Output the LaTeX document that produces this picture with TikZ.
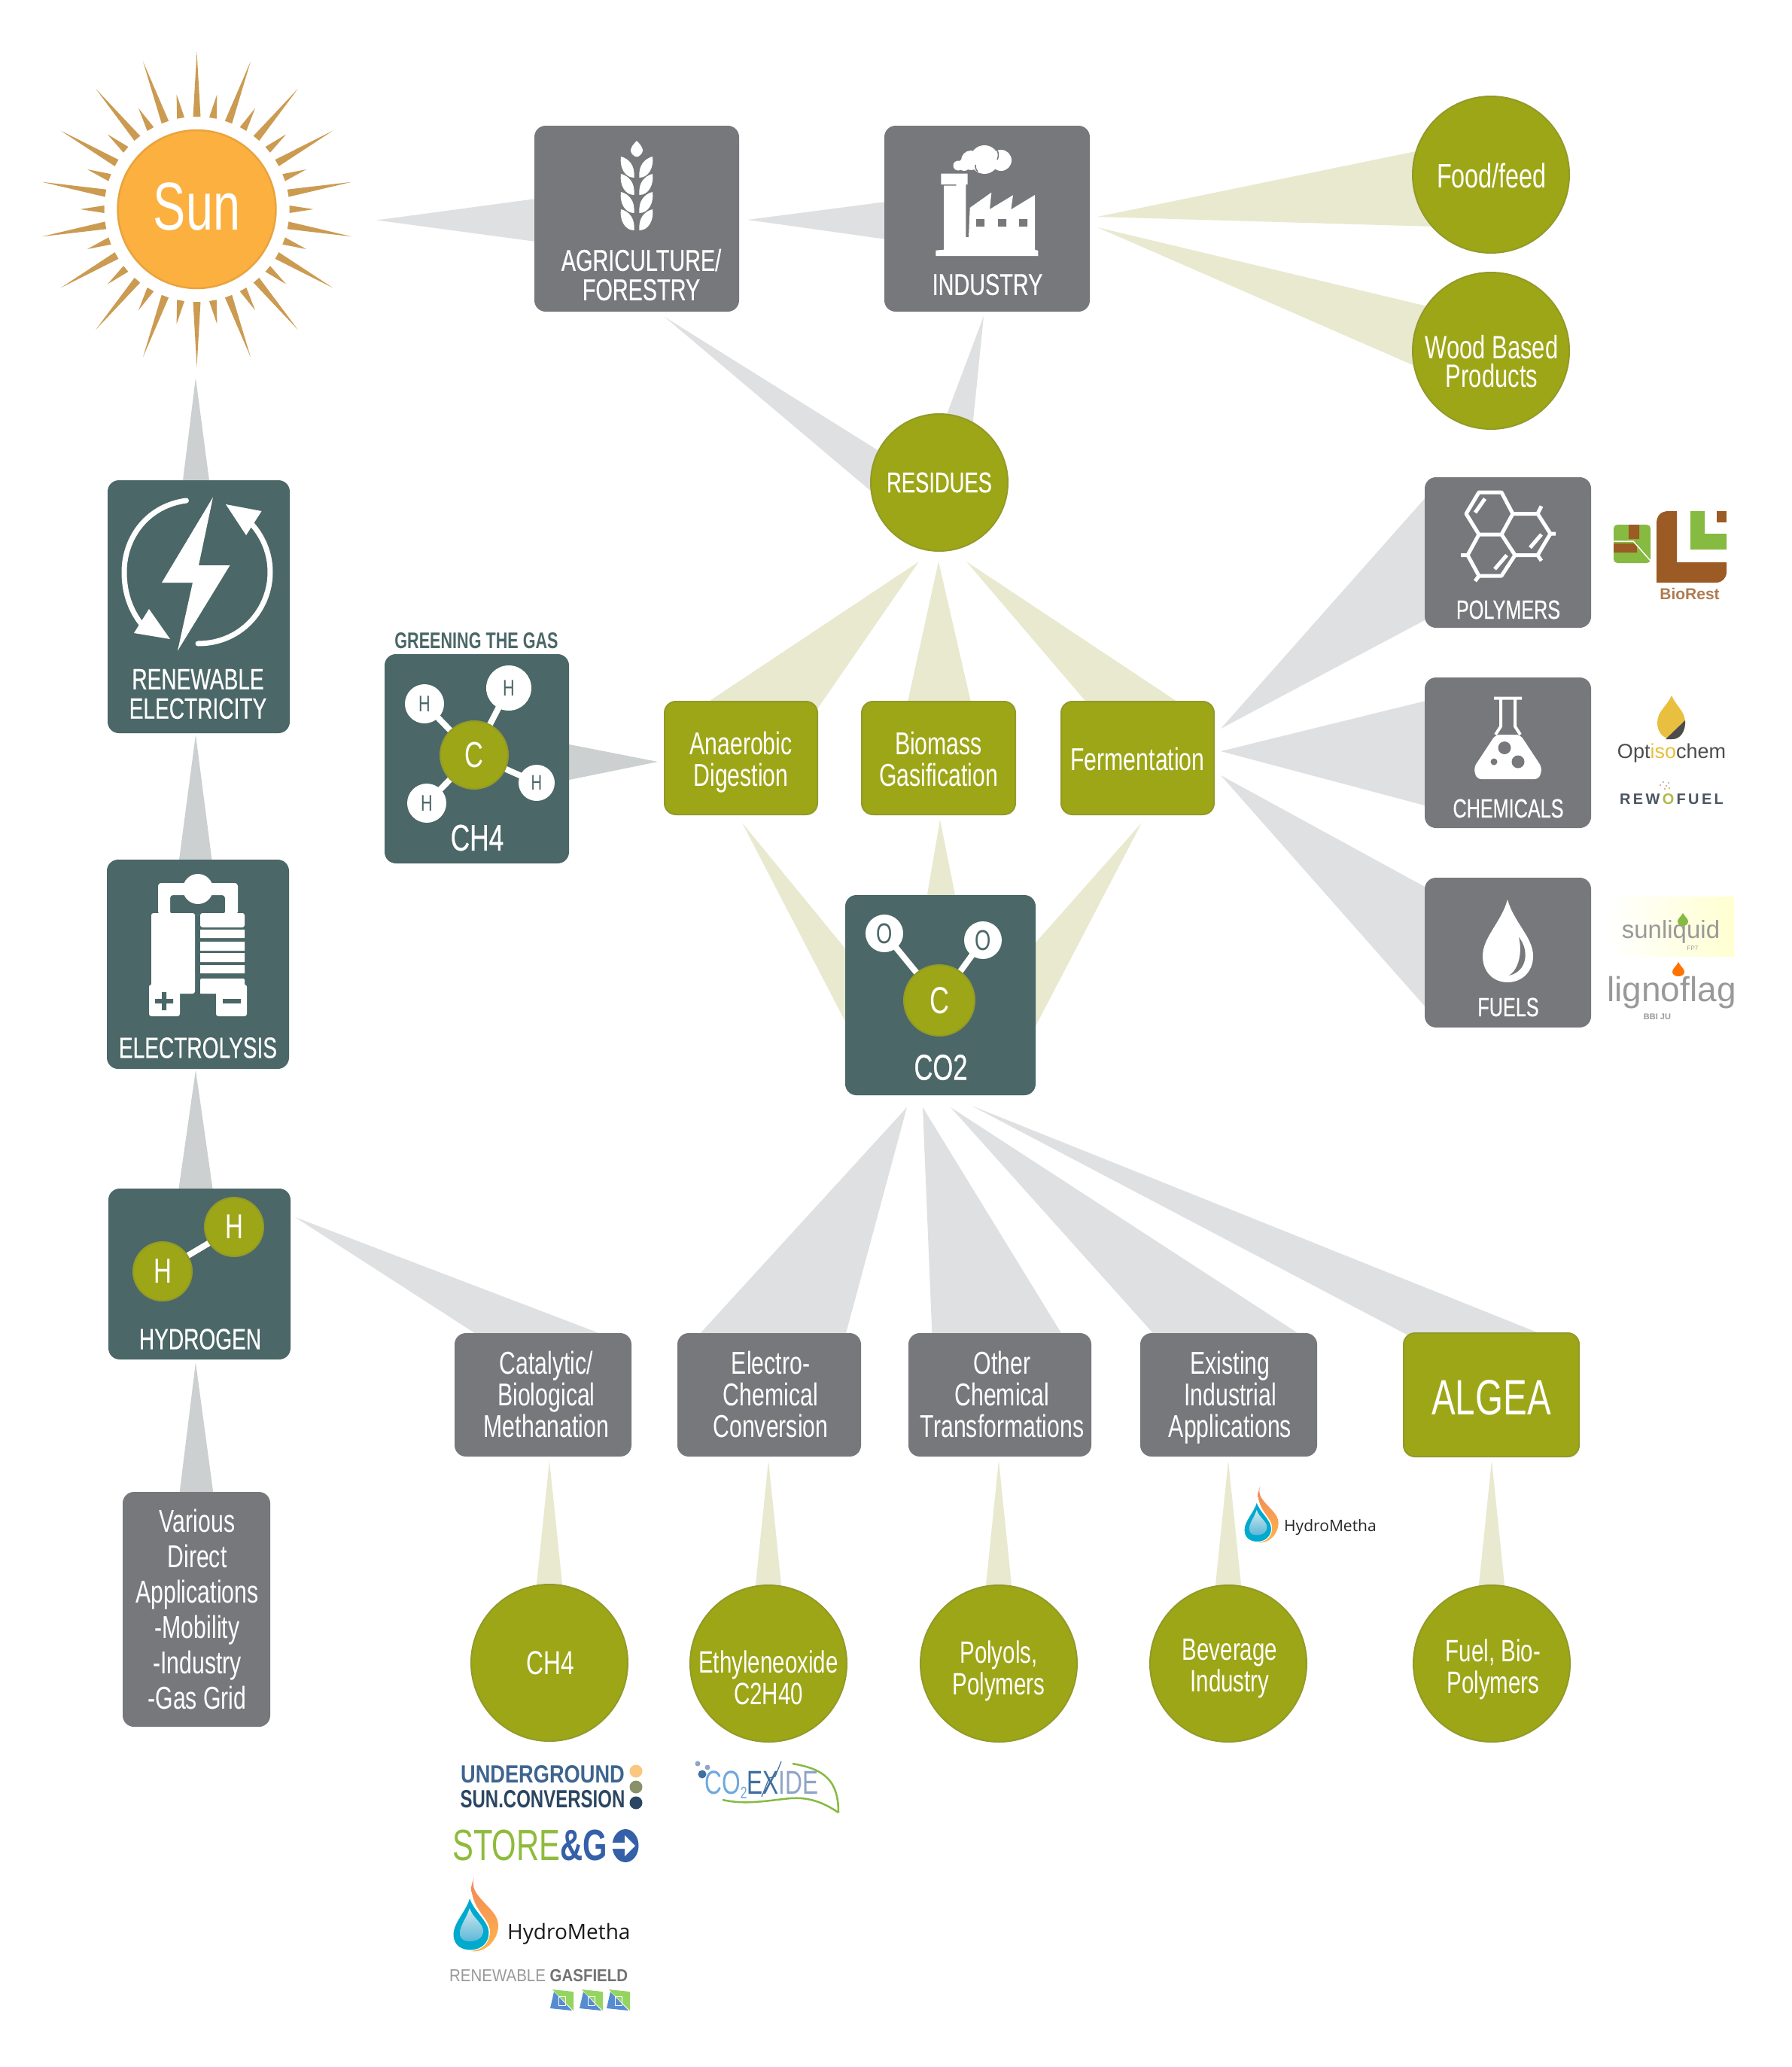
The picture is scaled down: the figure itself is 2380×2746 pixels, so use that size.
\documentclass[tikz,border=0pt]{standalone}
\usepackage{fontspec}
\usetikzlibrary{calc}
\setmainfont{Liberation Sans}
\newfontfamily\cond[FakeStretch=0.72]{Liberation Sans}
\newfontfamily\condm[FakeStretch=0.72,FakeBold=0.5]{Liberation Sans}
\newfontfamily\condb[FakeStretch=0.75,BoldFont={Liberation Sans Bold}]{Liberation Sans}
\newfontfamily\opens{Open Sans}
\newcommand\fsz[1]{\fontsize{#1}{#1}\selectfont}
\newcommand\fsl[2]{\fontsize{#1}{#2}\selectfont}
\definecolor{boxgray}{HTML}{77787B}
\definecolor{boxteal}{HTML}{4B6767}
\definecolor{olv}{HTML}{9DA617}
\definecolor{olvedge}{HTML}{929A28}
\definecolor{wgray}{HTML}{DFE0E2}
\definecolor{wteal}{HTML}{CCD0D1}
\definecolor{wolv}{HTML}{E8E9CF}
\definecolor{raycol}{HTML}{CB9B52}
\definecolor{sunfill}{HTML}{FBB040}
\definecolor{sunedge}{HTML}{E9A33F}
\definecolor{bbrown}{HTML}{9C5A24}
\definecolor{bgreen}{HTML}{86BA41}
\definecolor{uscblue}{HTML}{3E6590}
\definecolor{uscdark}{HTML}{2B4662}
\definecolor{uscgold}{HTML}{F9C77E}
\definecolor{uscolive}{HTML}{8A9168}
\definecolor{goblue}{HTML}{3560A8}
\definecolor{gogreen}{HTML}{8FBB3C}
\definecolor{coa}{HTML}{6FA8DC}
\definecolor{cob}{HTML}{3E6FA0}
\definecolor{coc}{HTML}{8FA5C8}
\definecolor{optgold}{HTML}{E8BF3E}
\definecolor{rewo}{HTML}{4A5560}
\definecolor{hmorange}{HTML}{F4845A}
\definecolor{hmyellow}{HTML}{FDB84A}
\definecolor{hmblue}{HTML}{00A9CE}
\definecolor{hmpale}{HTML}{D5E8F0}
\definecolor{hmmid}{HTML}{5AB8D8}
\pgfdeclarelayer{bg}
\pgfsetlayers{bg,main}
\tikzset{
  rbx/.style={rectangle,rounded corners=15,inner sep=0,align=center,text=white,font=\cond\fsl{42}{42}},
  olvcirc/.style={circle,fill=olv,draw=olvedge,line width=2,inner sep=0,text=white},
  whitetxt/.style={inner sep=0,text=white,align=center,font=\cond\fsl{42}{42}},
  caplabel/.style={inner sep=0,text=white,align=center,font=\condm\fsl{39}{39}},
  atomw/.style={circle,fill=white,inner sep=0,text=boxteal},
  bond/.style={draw=white,line width=8},
  icon/.style={fill=white,draw=none},
  iconline/.style={draw=white,line width=5,line join=round},
  wg/.style={fill=wgray},
  wt/.style={fill=wteal},
  wo/.style={fill=wolv},
  logotxt/.style={inner sep=0,align=center},
}
% box from corners
\newcommand\rrbx[6]{\node[rbx,fill=#2,minimum width={#5-#3},minimum height={#6-#4}] (#1) at ({(#3+#5)/2},{(#4+#6)/2})}
% wedge: style, source, tip offset, target, base offsets
\newcommand\wdg[6]{\fill[#1] ($(#2)+(#3)$) -- ($(#4)+(#5)$) -- ($(#4)+(#6)$) -- cycle;}
\newcommand\leafpair[1]{%
  \fill[icon] (842.5,#1+28) .. controls (830,#1+28) and (823,#1+14) .. (825,#1) .. controls (836,#1+3) and (844,#1+12) .. (842.5,#1+28) -- cycle;
  \fill[icon] (849.5,#1+28) .. controls (862,#1+28) and (869,#1+14) .. (867,#1) .. controls (856,#1+3) and (848,#1+12) .. (849.5,#1+28) -- cycle;}
\newcommand\hmdrop[3]{%
  \begin{scope}[shift={(#1,#2)},scale=#3]
  \shade[top color=hmorange,bottom color=hmyellow] (28,0) .. controls (24,15) and (30,22) .. (40,33) .. controls (50,44) and (60,52) .. (60,65) .. controls (60,85) and (42,102) .. (24,99) .. controls (38,96) and (50,85) .. (49,72) .. controls (48,55) and (26,45) .. (24,14) -- cycle;
  \fill[hmblue,draw=white,line width=1] (22,27) .. controls (18,45) and (0,60) .. (0,77) .. controls (0,92) and (11,98) .. (23,98) .. controls (38,98) and (48,88) .. (48,75) .. controls (48,58) and (28,47) .. (22,27) -- cycle;
  \shade[top color=hmpale,bottom color=hmmid] (22,42) .. controls (18,55) and (9,65) .. (9,75) .. controls (9,84) and (15,86) .. (22,86) .. controls (34,86) and (40,80) .. (40,72) .. controls (40,62) and (26,55) .. (22,42) -- cycle;
  \end{scope}}
\begin{document}
\begin{tikzpicture}[x=1pt,y=-1pt]
\useasboundingbox (0,0) rectangle (2380,2746);

%---- sun
\foreach \a in {10,30,...,350}{\begin{scope}[shift={(261.5,278)},rotate=\a]\fill[raycol] (123,-5) -- (209,0) -- (123,5) -- cycle;\end{scope}}
\foreach \a in {0,20,...,340}{\begin{scope}[shift={(261.5,278)},rotate=\a]\fill[raycol] (123,-5) -- (155,0) -- (123,5) -- cycle;\end{scope}}
\node[circle,fill=sunfill,draw=sunedge,line width=2.5,minimum size=210,inner sep=0] (sun) at (261.5,278) {};
\node[inner sep=0,text=white,font=\cond\fsz{90}] (sunt) at (261.5,275) {Sun};

%---- top row boxes
\rrbx{agri}{boxgray}{710}{167}{982}{414} {};
\rrbx{ind}{boxgray}{1175}{167}{1448}{414} {};
\node[caplabel,font=\condm\fsl{40}{39}] (agrit) at (852,365) {AGRICULTURE/\\FORESTRY};
\node[caplabel,font=\condm\fsz{40}] (indt) at (1312,378) {INDUSTRY};
\fill[icon] (846,187) .. controls (838,195) and (834,202) .. (844,208) -- (848,208) .. controls (858,202) and (854,195) .. (846,187) -- cycle;
\leafpair{208}\leafpair{231}\leafpair{255}\leafpair{278}
% factory
\fill[icon] (1250.3,230.7) -- (1285.7,230.7) -- (1285.7,245) -- (1283.3,245) -- (1283.3,315) -- (1287,315) -- (1288.7,276) -- (1317.3,255.7) -- (1315,278) -- (1346,259.3) -- (1343.3,278.3) -- (1375,259) -- (1375,331.7) -- (1379.3,333) -- (1379.3,340) -- (1243.3,340) -- (1243.3,332.7) -- (1254,331.7) -- (1254,246.7) -- (1270.7,246.7) -- (1270.7,245) -- (1250.3,245) -- cycle;
\fill[boxgray] (1297,291) rectangle (1308,301) (1326,291) rectangle (1337,301) (1354,291) rectangle (1365,301);
\fill[icon] (1273,220) circle (6.5) (1290,213) circle (13) (1308,212) circle (19) (1330,213) circle (14) (1281,219) circle (8);
\draw[boxgray,line width=1.5] (1296,219) .. controls (1296,224) and (1297,226) .. (1299,228);
\draw[boxgray,line width=1.5] (1325,200) .. controls (1327,204) and (1327,208) .. (1325,212);

%---- right circles
\node[olvcirc,minimum size=208] (food) at (1981,232) {};
\node[olvcirc,minimum size=208] (wood) at (1981,466) {};
\node[whitetxt,font=\cond\fsz{45}] (foodt) at (1982,233) {Food/feed};
\node[whitetxt,font=\cond\fsl{43}{38}] (woodt) at (1982,480) {Wood Based\\Products};
\node[olvcirc,minimum size=182,font=\condm\fsz{38}] (res) at (1248,641) {RESIDUES};

%---- left column
\rrbx{ren}{boxteal}{143}{638}{385}{974} {};
\node[caplabel] (rent) at (263,922) {RENEWABLE\\ELECTRICITY};
\fill[icon] (283,660.5) -- (215,774) -- (256,774) -- (236,864.6) -- (305.5,751) -- (264,751) -- cycle;
\draw[white,line width=7,line cap=round] (247.5,665) .. controls (195,672) and (165,715) .. (165,760) .. controls (165,790) and (175,815) .. (192,834);
\fill[icon] (178,841) -- (226,849) -- (198,809) -- cycle;
\draw[white,line width=7,line cap=round] (263,855) .. controls (320,855) and (359,810) .. (359,760) .. controls (359,730) and (345,705) .. (328,690);
\fill[icon] (300,670) -- (347.6,679) -- (327,711) -- cycle;

\rrbx{elec}{boxteal}{142}{1142}{384}{1420} {};
\node[caplabel] (elect) at (263,1392) {ELECTROLYSIS};
\fill[icon,even odd rule,rounded corners=4] (210,1173) rectangle (316,1215) (226,1189) rectangle (299,1215);
\fill[icon] (263,1181) circle (20);
\fill[icon,rounded corners=3] (201,1213) rectangle (259,1320);
\fill[icon,rounded corners=3] (198,1308) rectangle (239,1350);
\fill[icon,rounded corners=3] (266,1213) rectangle (325,1232);
\fill[icon] (266,1235) rectangle (325,1246) (266,1251) rectangle (325,1263) (266,1266) rectangle (325,1278) (266,1282) rectangle (325,1293);
\fill[icon,rounded corners=2] (266,1300) rectangle (325,1320);
\fill[icon,rounded corners=3] (287,1308) rectangle (328,1350);
\fill[icon] (266,1310) rectangle (287,1320);
\fill[boxteal] (206,1327) rectangle (230,1333) (215,1318) rectangle (221,1342) (296,1327) rectangle (320,1333);

\rrbx{hyd}{boxteal}{144}{1579}{386}{1806} {};
\node[caplabel] (hydt) at (266,1779) {HYDROGEN};
\draw[white,line width=8] (312,1631) -- (216,1688);
\node[olvcirc,minimum size=78,font=\cond\fsz{46}] (h1) at (311,1630) {H};
\node[olvcirc,minimum size=78,font=\cond\fsz{46}] (h2) at (216,1689) {H};

\rrbx{var}{boxgray}{163}{1982}{359}{2294} {};
\node[whitetxt,font=\cond\fsl{42}{47}] (vart) at (262,2138) {Various\\Direct\\Applications\\-Mobility\\-Industry\\-Gas Grid};

%---- CH4 molecule box
\node[inner sep=0,text=boxteal,font=\cond\bfseries\fsz{30}] (green) at (633,851) {GREENING THE GAS};
\rrbx{ch4b}{boxteal}{511}{869}{756}{1147} {};
\node[caplabel,font=\condm\fsz{49}] (ch4t) at (634,1113) {CH4};
\coordinate (catom) at (630,1003);
\draw[bond] (catom) -- (564,935) (catom) -- (676,914) (catom) -- (713,1040) (catom) -- (567,1067);
\node[atomw,minimum size=52,font=\cond\fsz{30}] (ha) at (564,935) {H};
\node[atomw,minimum size=60,font=\cond\fsz{30}] (hb) at (676,914) {H};
\node[atomw,minimum size=48,font=\cond\fsz{28}] (hc) at (713,1040) {H};
\node[atomw,minimum size=52,font=\cond\fsz{30}] (hd) at (567,1067) {H};
\node[olvcirc,minimum size=90,font=\cond\fsz{48}] (c1) at (catom) {C};

%---- process boxes
\rrbx{ana}{olv}{883}{932}{1086}{1082} [draw=olvedge,line width=2] {};
\rrbx{bio}{olv}{1145}{932}{1349}{1082} [draw=olvedge,line width=2] {};
\rrbx{fer}{olv}{1410}{932}{1613}{1082} [draw=olvedge,line width=2] {};
\node[whitetxt] (anat) at (984.5,1013) {Anaerobic\\Digestion};
\node[whitetxt] (biot) at (1247,1008) {Biomass\\Gasification};
\node[whitetxt] (fert) at (1511.5,1008) {Fermentation};

%---- CO2 box
\rrbx{co2}{boxteal}{1123}{1189}{1376}{1455} {};
\node[caplabel,font=\condm\fsz{48}] (co2t) at (1250,1418) {CO2};
\coordinate (catomb) at (1248,1329);
\draw[bond] (catomb) -- (1175,1240) (catomb) -- (1306,1249);
\node[atomw,minimum size=50,font=\cond\fsz{38}] (oa) at (1175,1240) {O};
\node[atomw,minimum size=50,font=\cond\fsz{38}] (ob) at (1306,1249) {O};
\node[olvcirc,minimum size=94,font=\cond\fsz{50}] (c2) at (catomb) {C};

%---- right boxes
\rrbx{pol}{boxgray}{1893}{634}{2114}{834} {};
\rrbx{che}{boxgray}{1893}{900}{2114}{1100} {};
\rrbx{fue}{boxgray}{1893}{1166}{2114}{1365} {};
\node[caplabel,font=\condm\fsz{35}] (polt) at (2004,810) {POLYMERS};
\node[caplabel,font=\condm\fsz{35}] (chet) at (2004,1074) {CHEMICALS};
\node[caplabel,font=\condm\fsz{35}] (fuet) at (2004,1338) {FUELS};
% hexagons
\draw[iconline] (1965,654) -- (1995,654) -- (2010,682.5) -- (1995,710) -- (1965,710) -- (1948,682.5) -- cycle;
\draw[iconline] (2010,682.5) -- (2043,682.5) -- (2060,709) -- (2043,737.5) -- (2013,737.5) -- (1995,710);
\draw[iconline] (1965,710) -- (1950,737.5) -- (1965,765) -- (1995,765) -- (2013,737.5);
\draw[iconline] (2060,709) -- (2067,709) (2043,682.5) -- (2048,672.5) (2043,737.5) -- (2048,745) (1950,737.5) -- (1941,737.5) (1965,765) -- (1960,772);
\draw[iconline] (1960,681) -- (1973,662.5) (2033,727.5) -- (2048,710) (1986,756) -- (2002,737.5);
% flask
\draw[iconline,line width=4] (1985,927.5) -- (2022,927.5) (1994,928) -- (1994,965) -- (1987,976) (2013,928) -- (2013,965) -- (2020,976);
\fill[icon,rounded corners=6] (1987,976) -- (2020,976) -- (2049,1020) -- (2045,1035) -- (1962,1035) -- (1958,1020) -- cycle;
\fill[boxgray] (1999,993.5) circle (8.5) (2017,1012) circle (8.5) (1985,1012) circle (4.5);
% drop
\fill[icon] (2003,1195) .. controls (1995,1225) and (1970,1245) .. (1970,1270) .. controls (1970,1292) and (1985,1305) .. (2003,1305) .. controls (2021,1305) and (2037,1292) .. (2037,1270) .. controls (2037,1245) and (2011,1225) .. (2003,1195) -- cycle;
\fill[boxgray] (2018,1245) .. controls (2032,1262) and (2030,1290) .. (2005,1296) .. controls (2018,1288) and (2023,1265) .. (2018,1245) -- cycle;

%---- lower row boxes
\rrbx{cat}{boxgray}{604}{1771}{839}{1935} {};
\rrbx{ele}{boxgray}{900}{1771}{1144}{1935} {};
\rrbx{oth}{boxgray}{1207}{1771}{1450}{1935} {};
\rrbx{exi}{boxgray}{1515}{1771}{1750}{1935} {};
\rrbx{alg}{olv}{1865}{1771}{2098}{1935} [draw=olvedge,line width=2] {};
\node[whitetxt] (catt) at (726,1852) {Catalytic/\\Biological\\Methanation};
\node[whitetxt] (elet) at (1024,1852) {Electro-\\Chemical\\Conversion};
\node[whitetxt] (otht) at (1331.5,1852) {Other\\Chemical\\Transformations};
\node[whitetxt] (exit) at (1634.5,1856.5) {Existing\\Industrial\\Applications};
\node[whitetxt,font=\cond\fsz{66}] (algt) at (1981.5,1857) {ALGEA};

%---- bottom circles
\node[olvcirc,minimum size=208] (cch) at (730,2209) {};
\node[whitetxt,font=\cond\fsz{44}] (ccht) at (731.5,2209) {CH4};
\node[olvcirc,minimum size=208] (cet) at (1021,2210) {};
\node[olvcirc,minimum size=208] (cpo) at (1327,2210) {};
\node[olvcirc,minimum size=208] (cbe) at (1632,2210) {};
\node[olvcirc,minimum size=208] (cfu) at (1982,2210) {};
\node[whitetxt,font=\cond\fsl{41}{42}] (cett) at (1021,2229) {Ethyleneoxide\\C2H40};
\node[whitetxt,font=\cond\fsl{41}{42}] (cpot) at (1327,2219.5) {Polyols,\\Polymers};
\node[whitetxt,font=\cond\fsl{41}{42}] (cbet) at (1634,2217) {Beverage\\Industry};
\node[whitetxt,font=\cond\fsl{41}{42}] (cfut) at (1984,2217.5) {Fuel, Bio-\\Polymers};

%---- wedges
\begin{pgfonlayer}{bg}
\wdg{wg}{sun}{239,14.5}{agri}{-130,-27}{-130,31}
\wdg{wg}{agri}{147,1.5}{ind}{-130,-23}{-130,28}
\wdg{wg}{agri}{37,130.5}{res}{-74,-38}{-83,18}
\wdg{wg}{ind}{-4.5,129.5}{res}{6,-80}{44,-72}
\wdg{wo}{ind}{146.5,-2.5}{food}{-90,-33}{-75,69}
\wdg{wo}{ind}{146.5,11.5}{wood}{-80,-58}{-90,25}
\wdg{wt}{ren}{-4,-304}{ren}{-22,-160}{15,-160}
\wdg{wt}{ren}{-4,170}{elec}{-25.5,-135}{19,-135}
\wdg{wt}{elec}{-3,140.5}{hyd}{-28,-110}{18,-110}
\wdg{wt}{hyd}{-5,117.5}{var}{-23,-150}{23,-150}
\wdg{wg}{hyd}{127,-75.5}{cat}{-84.5,-78}{85,-78}
\wdg{wt}{ana}{-110.5,5}{ch4b}{118,-20}{118,29}
\wdg{wo}{res}{-27,105}{ana}{-50.5,-70}{98,-60}
\wdg{wo}{res}{-1,105}{bio}{-42,-70}{44,-70}
\wdg{wo}{res}{36,105}{fer}{-64.5,-70}{60,-70}
\wdg{wg}{fer}{110.5,-39}{pol}{-105,-78}{-105,87}
\wdg{wg}{fer}{110.5,-9}{che}{-105,-70}{-105,71.5}
\wdg{wg}{fer}{110.5,23}{fue}{-105,-84.5}{-105,77.5}
\wdg{wo}{ana}{1.5,86}{co2}{-120,-54}{-120,47.5}
\wdg{wo}{bio}{2,82}{co2}{-18.5,-128}{20.5,-128}
\wdg{wo}{fer}{5.5,86}{co2}{120,-62.5}{120,53.5}
\wdg{wg}{co2}{-44.5,149}{ele}{-95,-78}{101,-78}
\wdg{wg}{co2}{-23.5,149}{oth}{-90,-78}{84,-78}
\wdg{wg}{co2}{13.5,149}{exi}{-97,-78}{98,-78}
\wdg{wg}{co2}{41.5,147}{alg}{-108.5,-78}{73.5,-78}
\wdg{wo}{cat}{8.5,87}{cch}{-18,-95}{18,-95}
\wdg{wo}{ele}{-1,87}{cet}{-18,-95}{18,-95}
\wdg{wo}{oth}{-1.5,87}{cpo}{-18,-95}{18,-95}
\wdg{wo}{exi}{-0.5,87}{cbe}{-18,-95}{18,-95}
\wdg{wo}{alg}{0.5,87}{cfu}{-18,-95}{18,-95}
\end{pgfonlayer}

%---- logos: BioRest
\fill[bgreen,rounded corners=5] (2144,697) -- (2193,697) -- (2193,748) -- (2144,748) -- cycle;
\fill[bbrown] (2164,697) rectangle (2178,716) (2144,722) rectangle (2175,734);
\draw[white,line width=1.5] (2144,719) -- (2170,719) -- (2193,745);
\fill[bbrown] (2201,695) .. controls (2201,685) and (2207,679) .. (2217,679) -- (2228,679) -- (2228,747) -- (2294,747) -- (2294,760) .. controls (2294,768) and (2288,774) .. (2280,774) -- (2201,774) -- cycle;
\fill[bgreen] (2246,679) -- (2265,679) -- (2265,709) -- (2294,709) -- (2294,730) -- (2246,730) -- cycle;
\fill[bbrown] (2281,679) rectangle (2294,694);
\node[logotxt,text=bbrown!80!white,font=\bfseries\fsz{21}] (biorest) at (2245,789) {BioRest};

%---- Optisochem
\fill[optgold] (2221,924) .. controls (2215,938) and (2202,945) .. (2202,960) .. controls (2202,975) and (2212,982) .. (2222,982) .. controls (2232,982) and (2239,972) .. (2239,960) .. controls (2239,945) and (2227,938) .. (2221,924) -- cycle;
\fill[black!70] (2213,982) -- (2239,957) .. controls (2240,972) and (2232,982) .. (2222,982) -- cycle;
\node[logotxt,text=black!70,font=\fsz{27}] (optiso) at (2221,1001) {Opt{\color{optgold}iso}chem};
\node[logotxt,text=rewo,font=\bfseries\fsz{20}] (rewof) at (2221,1062) {R\,E\,W\,{\color{olv!80!white}O}\,F\,U\,E\,L};
\fill[bbrown!60!white] (2206,1043) circle (1.2) (2210,1039) circle (1.2) (2214,1044) circle (1.2) (2217,1040) circle (1.2) (2212,1048) circle (1.2) (2218,1047) circle (1.2);

%---- sunliquid, lignoflag
\shade[left color=white,right color=yellow!18!white] (2137,1191) rectangle (2304,1270);
\node[logotxt,text=black!40,font=\fsz{33}] (sunliq) at (2220,1238) {sunliquid};
\fill[bgreen] (2236,1213) .. controls (2233,1218) and (2229,1221) .. (2229,1224) .. controls (2229,1232) and (2243,1232) .. (2243,1224) .. controls (2243,1221) and (2239,1218) .. (2236,1213) -- cycle;
\node[logotxt,text=black!40,font=\fsz{8}] (fp7) at (2249,1260) {FP7};
\node[logotxt,text=black!40,font=\fsz{46}] (ligno) at (2221,1319) {lignoflag};
\fill[orange!90!red] (2230,1278) .. controls (2227,1284) and (2222,1287) .. (2222,1291) .. controls (2222,1299) and (2238,1299) .. (2238,1291) .. controls (2238,1287) and (2233,1284) .. (2230,1278) -- cycle;
\node[logotxt,text=black!40,font=\bfseries\fsz{11}] (bbi) at (2202,1351) {BBI JU};

%---- small HydroMetha
\hmdrop{1653}{1974}{0.76}
\node[logotxt,anchor=west,text=black!85,font=\opens\fsz{21}] (hm1) at (1706,2029) {HydroMetha};

%---- logos under CH4
\node[logotxt,text=uscblue,font=\condb\bfseries\fsz{33}] (usc1) at (721,2357) {\scalebox{1.1}[1]{UNDERGROUND}};
\node[logotxt,text=uscdark,font=\condb\bfseries\fsz{33}] (usc2) at (721,2390) {\scalebox{0.97}[1]{SUN.CONVERSION}};
\fill[uscgold] (845,2353) circle (8.5);
\fill[uscolive] (845,2374) circle (8.5);
\fill[uscdark] (845,2395) circle (8.5);
\node[logotxt,anchor=west,font=\cond\fsz{58}] (store) at (601,2452) {\textcolor{gogreen}{STORE}\textcolor{goblue}{\bfseries\&G}};
\fill[goblue] (831,2452) ellipse (17.5 and 22);
\fill[white] (812,2448) -- (830,2448) -- (830,2438) -- (844,2452) -- (830,2466) -- (830,2456) -- (812,2456) -- cycle;
\hmdrop{602}{2493}{1}
\node[logotxt,anchor=west,text=black!90,font=\opens\fsz{28}] (hm2) at (674,2569) {HydroMetha};
\node[logotxt,anchor=west,font=\fsz{23}] (rgf) at (597,2625) {\scalebox{0.89}[1]{\textcolor{black!40}{RENEWABLE} \textcolor{black!55}{\bfseries GASFIELD}}};
\foreach \xx in {731,770,806}{
  \fill[yellow!40!green!70!white] (\xx+3,2643) -- (\xx+31,2646) -- (\xx+31,2671) -- cycle;
  \fill[cyan!50!blue!70!white] (\xx+5,2646) -- (\xx+29,2671) -- (\xx,2668) -- cycle;
  \draw[white,line width=1] (\xx+11,2652) rectangle (\xx+20,2664);
}

%---- CO2EXIDE
\node[logotxt,font=\cond\fsz{44}] (coex) at (1012,2371) {\textcolor{coa}{CO\raisebox{-6pt}{\fsz{22}2}}\textcolor{cob}{EX}\textcolor{coc}{IDE}};
\draw[bgreen,line width=2.5] (960,2391) .. controls (990,2398) and (1020,2392) .. (1050,2389) .. controls (1075,2387) and (1095,2395) .. (1114,2408);
\draw[bgreen,line width=2.5] (1053,2343) .. controls (1095,2350) and (1114,2365) .. (1114,2408);
\fill[coc] (927,2343) circle (3.5) (940,2348) circle (3.5);
\fill[cob] (933,2357) circle (5.5);
\draw[cob,line width=1.2] (1038,2340) -- (1030,2360) -- (1022,2362) -- (1012,2387);
\end{tikzpicture}
\end{document}
